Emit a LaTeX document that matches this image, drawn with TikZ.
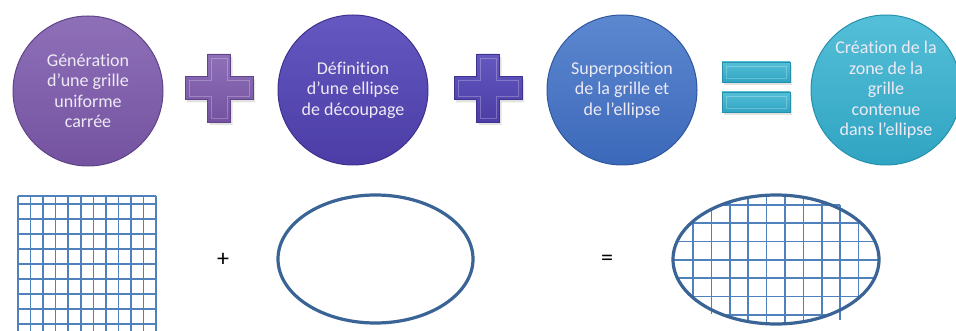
\documentclass[tikz,border=0pt]{standalone}
\usepackage{fontspec}
\setmainfont{Carlito}[Ligatures=NoCommon]
\definecolor{gridblue}{HTML}{4F81BD}
\definecolor{ellblue}{HTML}{3A6396}
\definecolor{purA}{HTML}{8E70B8}
\definecolor{purB}{HTML}{7452A0}
\definecolor{purE}{HTML}{5F4488}
\definecolor{indA}{HTML}{6558C0}
\definecolor{indB}{HTML}{4B3CA6}
\definecolor{indE}{HTML}{3E3290}
\definecolor{bluA}{HTML}{5C88D0}
\definecolor{bluB}{HTML}{3C68BA}
\definecolor{bluE}{HTML}{30579E}
\definecolor{aquA}{HTML}{55BFD8}
\definecolor{aquB}{HTML}{2FA4C2}
\definecolor{aquE}{HTML}{2590AC}
\definecolor{txtlight}{HTML}{EEEAF4}
\begin{document}
\begin{tikzpicture}[x=1pt,y=-1pt,
  ballstyle/.style={circle, minimum size=150pt, inner sep=0pt, line width=1pt,
    align=center, text=txtlight, font=\fontsize{18}{20.5}\selectfont},
  gline/.style={draw=gridblue, line width=1.6pt},
  eline/.style={draw=ellblue, line width=3.2pt},
  signtxt/.style={font=\fontsize{24}{24}\selectfont, text=black, inner sep=0pt}]
\useasboundingbox (0,0) rectangle (956,331);

% top circles
\node[ballstyle, draw=purE, top color=purA, bottom color=purB] (c1) at (88,91)
  {Génération\\d’une grille\\uniforme\\carrée};
\node[ballstyle, draw=indE, top color=indA, bottom color=indB] (c2) at (353,90)
  {Définition\\d’une ellipse\\de découpage};
\node[ballstyle, draw=bluE, top color=bluA, bottom color=bluB] (c3) at (622,90)
  {Superposition\\de la grille et\\de l’ellipse};
\node[ballstyle, draw=aquE, top color=aquA, bottom color=aquB] (c4) at (886,90)
  {Création de la\\zone de la\\grille\\contenue\\dans l’ellipse};

% plus signs
\foreach \cx/\ca/\cb/\ce in {219/purA/purB/purE, 488/indA/indB/indE}{
  \begin{scope}[shift={(\cx,88)}]
    \fill[black!25, opacity=0.45] (-11.5+2,-34+3) -- (11.5+2,-34+3) -- (11.5+2,-11.5+3) -- (34+2,-11.5+3) -- (34+2,11.5+3) -- (11.5+2,11.5+3) -- (11.5+2,34+3) -- (-11.5+2,34+3) -- (-11.5+2,11.5+3) -- (-34+2,11.5+3) -- (-34+2,-11.5+3) -- (-11.5+2,-11.5+3) -- cycle;
    \shade[top color=\ca, bottom color=\cb] (-11.5,-34) -- (11.5,-34) -- (11.5,-11.5) -- (34,-11.5) -- (34,11.5) -- (11.5,11.5) -- (11.5,34) -- (-11.5,34) -- (-11.5,11.5) -- (-34,11.5) -- (-34,-11.5) -- (-11.5,-11.5) -- cycle;
    \draw[\ce, line width=0.8pt] (-11.5,-34) -- (11.5,-34) -- (11.5,-11.5) -- (34,-11.5) -- (34,11.5) -- (11.5,11.5) -- (11.5,34) -- (-11.5,34) -- (-11.5,11.5) -- (-34,11.5) -- (-34,-11.5) -- (-11.5,-11.5) -- cycle;
    \draw[white, opacity=0.25, line width=0.8pt] (-8,-30) -- (8,-30) -- (8,-8) -- (30,-8) -- (30,8) -- (8,8) -- (8,30) -- (-8,30) -- (-8,8) -- (-30,8) -- (-30,-8) -- (-8,-8) -- cycle;
  \end{scope}
}
\node[inner sep=0pt, minimum width=68pt, minimum height=68pt] (p1) at (219,88) {};
\node[inner sep=0pt, minimum width=68pt, minimum height=68pt] (p2) at (488,88) {};

% equals sign
\foreach \yy in {62,92}{
  \fill[black!25, opacity=0.45] (724,\yy+3) rectangle (792,\yy+23);
  \shade[top color=aquA, bottom color=aquB] (722,\yy) rectangle (790,\yy+20);
  \draw[aquE, line width=0.8pt] (722,\yy) rectangle (790,\yy+20);
  \draw[white, opacity=0.25, line width=0.8pt] (726,\yy+4) rectangle (786,\yy+16);
}
\node[inner sep=0pt, minimum width=68pt, minimum height=50pt] (eq) at (756,87) {};

% bottom left grid
\begin{scope}
  \clip (10,190) rectangle (170,331);
  \foreach \k in {0,...,11}{
    \draw[gline] (18+\k*12.55,196) -- (18+\k*12.55,335);
  }
  \draw[gline] (18,196) -- (156,196);
  \foreach \k in {0,...,8}{
    \draw[gline] (18,204+\k*15) -- (156,204+\k*15);
  }
\end{scope}

% plus text
\node[signtxt] (plus) at (223,260) {+};

% ellipse alone
\node[inner sep=0pt] (e2) at (375.5,259) {};
\draw[eline] (e2) ellipse [x radius=97.5pt, y radius=64pt];

% equal text
\node[signtxt] (equal) at (607,260) {=};

% ellipse with grid
\node[inner sep=0pt] (e3) at (776,259.5) {};
\begin{scope}
  \clip (e3) ellipse [x radius=103pt, y radius=64.5pt];
  \foreach \k in {0,...,9}{
    \draw[gline] (693+\k*18.4,190) -- (693+\k*18.4,330);
  }
  \foreach \k in {0,...,6}{
    \draw[gline] (665,205+\k*18.3) -- (890,205+\k*18.3);
  }
\end{scope}
\draw[gline] (840.2,205) -- (840.2,320);
\draw[gline] (730,205) -- (840.2,205);
\draw[gline] (711.4,298) -- (711.4,314);
\draw[gline] (730,314.8) -- (822,314.8);
\draw[eline] (e3) ellipse [x radius=103pt, y radius=64.5pt];
\end{tikzpicture}
\end{document}
